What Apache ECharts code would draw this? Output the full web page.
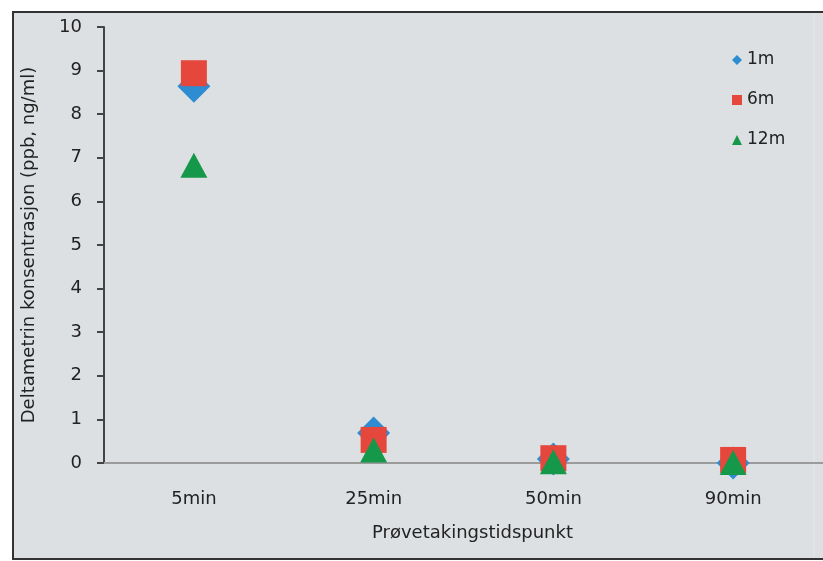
<!DOCTYPE html>
<html>
<head>
<meta charset="utf-8">
<script src="https://cdn.jsdelivr.net/npm/echarts@6/dist/echarts.min.js"></script>
<style>
html,body{margin:0;padding:0;background:#fff;}
#chart{width:823px;height:561px;}
</style>
</head>
<body>
<div id="chart"></div>
<script>
var categories = ['5min', '25min', '50min', '90min'];
var seriesNames = ['1m', '6m', '12m'];
var values1m = [8.64, 0.69, 0.09, 0.00];
var values6m = [8.94, 0.53, 0.11, 0.07];
var values12m = [6.83, 0.30, 0.03, 0.01];
var yTicks = [0, 1, 2, 3, 4, 5, 6, 7, 8, 9, 10];

var FONT = 'DejaVu Sans';
var chart = echarts.init(document.getElementById('chart'));
chart.setOption({
  backgroundColor: '#ffffff',
  animation: false,
  textStyle: { fontFamily: FONT },
  graphic: [
    { type: 'rect', z: -10, shape: { x: 13, y: 12, width: 820, height: 547 },
      style: { fill: '#dde0e3', stroke: '#333', lineWidth: 2 } },
    { type: 'line', z: -9, shape: { x1: 814, y1: 14, x2: 814, y2: 557 },
      style: { stroke: '#e6e8ea', lineWidth: 1 } }
  ],
  legend: {
    orient: 'vertical',
    left: 727,
    top: 46,
    itemWidth: 10,
    itemHeight: 10,
    itemGap: 22,
    textStyle: { fontFamily: FONT, fontSize: 17, color: '#222', lineHeight: 18 },
    data: [
      { name: '1m', icon: 'diamond' },
      { name: '6m', icon: 'rect' },
      { name: '12m', icon: 'triangle' }
    ]
  },
  grid: { left: 104, top: 27, width: 723, bottom: 98, containLabel: false },
  xAxis: {
    type: 'category',
    data: categories,
    boundaryGap: true,
    axisLine: { lineStyle: { color: '#9b9b9b', width: 2 } },
    axisTick: { show: false },
    axisLabel: { margin: 27, fontSize: 18, color: '#222', fontFamily: FONT },
    name: 'Prøvetakingstidspunkt',
    nameLocation: 'middle',
    nameGap: 61,
    nameTextStyle: { fontSize: 18, color: '#222', fontFamily: FONT, padding: [0, 0, 0, 18] }
  },
  yAxis: {
    type: 'value',
    min: 0,
    max: 10,
    interval: 1,
    axisLine: { show: true, lineStyle: { color: '#444', width: 2 } },
    axisTick: { show: true, inside: false, length: 7, lineStyle: { color: '#444', width: 2 } },
    splitLine: { show: false },
    axisLabel: { margin: 22, fontSize: 18, color: '#222', fontFamily: FONT,
      formatter: function (v) { return yTicks.indexOf(v) >= 0 ? String(v) : ''; } },
    name: 'Deltametrin konsentrasjon (ppb, ng/ml)',
    nameLocation: 'middle',
    nameGap: 66,
    nameTextStyle: { fontSize: 18, color: '#222', fontFamily: FONT }
  },
  series: [
    { name: seriesNames[0], type: 'scatter', data: values1m, symbol: 'diamond', symbolSize: 33,
      itemStyle: { color: '#2e8dd2', opacity: 1 } },
    { name: seriesNames[1], type: 'scatter', data: values6m, symbol: 'rect', symbolSize: 26,
      itemStyle: { color: '#e5473c', opacity: 1 } },
    { name: seriesNames[2], type: 'scatter', data: values12m, symbol: 'triangle', symbolSize: [27, 25],
      itemStyle: { color: '#16984b', opacity: 1 } }
  ]
});
</script>
</body>
</html>
